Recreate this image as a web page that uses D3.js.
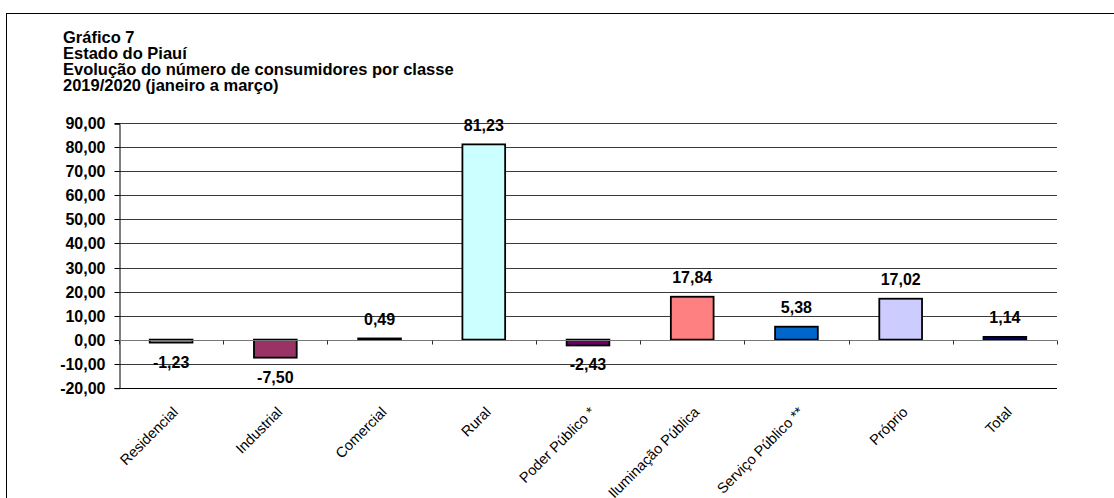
<!DOCTYPE html>
<html>
<head>
<meta charset="utf-8">
<script src="https://cdn.jsdelivr.net/npm/d3@7"></script>
<style>
  html, body { margin: 0; padding: 0; background: #fff; }
  svg { display: block; font-family: "Liberation Sans", Arial, sans-serif; }
</style>
</head>
<body>
<svg id="chart" width="1114" height="498"></svg>
<script>
// Consumer growth by class, Piauí, Jan–Mar 2019/2020 (%)
const categories = ["Residencial", "Industrial", "Comercial", "Rural", "Poder Público *",
  "Iluminação Pública", "Serviço Público **", "Próprio", "Total"];
const values = [-1.23, -7.50, 0.49, 81.23, -2.43, 17.84, 5.38, 17.02, 1.14];
const barColors = ["#9999FF", "#993366", "#FFFFCC", "#CCFFFF", "#660066",
  "#FF8080", "#0066CC", "#CCCCFF", "#000080"];
const yTicks = [-20, -10, 0, 10, 20, 30, 40, 50, 60, 70, 80, 90];
const titleLines = ["Gráfico 7", "Estado do Piauí",
  "Evolução do número de consumidores por classe", "2019/2020 (janeiro a março)"];

const svg = d3.select("#chart");
// Brazilian number style: comma decimal, plain hyphen for negatives
const fmt = v => d3.format(".2f")(v).replace("−", "-").replace(".", ",");

// outer frame (only top and left edges fall inside the view)
svg.append("rect")
  .attr("x", 6.5).attr("y", 13.5)
  .attr("width", 1200).attr("height", 600)
  .attr("fill", "none").attr("stroke", "#000").attr("stroke-width", 1);

// title block
svg.append("g").selectAll("text").data(titleLines).join("text")
  .attr("x", 63).attr("y", (d, i) => 43 + i * 16)
  .attr("font-size", 16.5).attr("font-weight", "bold").attr("fill", "#000")
  .text(d => d);

const left = 119, right = 1057;
const x = d3.scaleBand().domain(categories).range([left, right]).paddingInner(0.59).paddingOuter(0.295);
const xb = d3.scaleBand().domain(categories).range([left, right]).padding(0);
const y = d3.scaleLinear().domain([-20, 90]).range([387.7, 123.3]);

// horizontal gridlines
svg.append("g").selectAll("line").data(yTicks.filter(t => t !== -20 && t !== 0)).join("line")
  .attr("x1", left).attr("x2", right)
  .attr("y1", d => Math.round(y(d)) + 0.5).attr("y2", d => Math.round(y(d)) + 0.5)
  .attr("stroke", "#3a3a3a").attr("stroke-width", 1);

// y axis
const yAxis = svg.append("g").attr("transform", `translate(${left + 0.5},0.5)`)
  .call(d3.axisLeft(y).tickValues(yTicks).tickSize(5).tickPadding(9).tickFormat(fmt));
yAxis.select(".domain").attr("stroke", "#000");
yAxis.selectAll(".tick line").attr("stroke", "#000");
yAxis.selectAll(".tick text")
  .attr("font-family", "Liberation Sans, Arial, sans-serif")
  .attr("font-size", 16).attr("font-weight", "bold").attr("fill", "#000");
yAxis.selectAll(".tick").attr("transform", d => `translate(0,${Math.round(y(d))})`);

// bottom plot edge
svg.append("line")
  .attr("x1", left).attr("x2", right)
  .attr("y1", Math.round(y(-20)) + 0.5).attr("y2", Math.round(y(-20)) + 0.5)
  .attr("stroke", "#000");

// bars
svg.append("g").selectAll("rect").data(values).join("rect")
  .attr("x", (d, i) => x(categories[i]))
  .attr("width", x.bandwidth())
  .attr("y", d => y(Math.max(0, d)))
  .attr("height", d => Math.abs(y(d) - y(0)))
  .attr("fill", (d, i) => barColors[i])
  .attr("stroke", "#000").attr("stroke-width", 1.8);

// zero axis with category tick marks
const y0 = Math.round(y(0)) + 0.5;
svg.append("line").attr("x1", left).attr("x2", right).attr("y1", y0).attr("y2", y0)
  .attr("stroke", "#777").attr("stroke-width", 1.2);
svg.append("g").selectAll("line").data(categories.concat(["__end"])).join("line")
  .attr("x1", (d, i) => Math.round(left + i * xb.bandwidth()) + 0.5)
  .attr("x2", (d, i) => Math.round(left + i * xb.bandwidth()) + 0.5)
  .attr("y1", y0).attr("y2", y0 + 4)
  .attr("stroke", "#333");

// value labels
svg.append("g").selectAll("text").data(values).join("text")
  .attr("x", (d, i) => x(categories[i]) + x.bandwidth() / 2)
  .attr("y", d => d >= 0 ? y(d) - 13.5 : y(d) + 25)
  .attr("text-anchor", "middle")
  .attr("font-size", 16).attr("font-weight", "bold").attr("fill", "#000")
  .text(d => fmt(d));

// rotated category labels
svg.append("g").selectAll("text").data(categories).join("text")
  .attr("transform", d => `translate(${x(d) + x.bandwidth() / 2 + 8},${413}) rotate(-45)`)
  .attr("text-anchor", "end")
  .attr("font-size", 14.5).attr("fill", "#000")
  .text(d => d);
</script>
</body>
</html>
